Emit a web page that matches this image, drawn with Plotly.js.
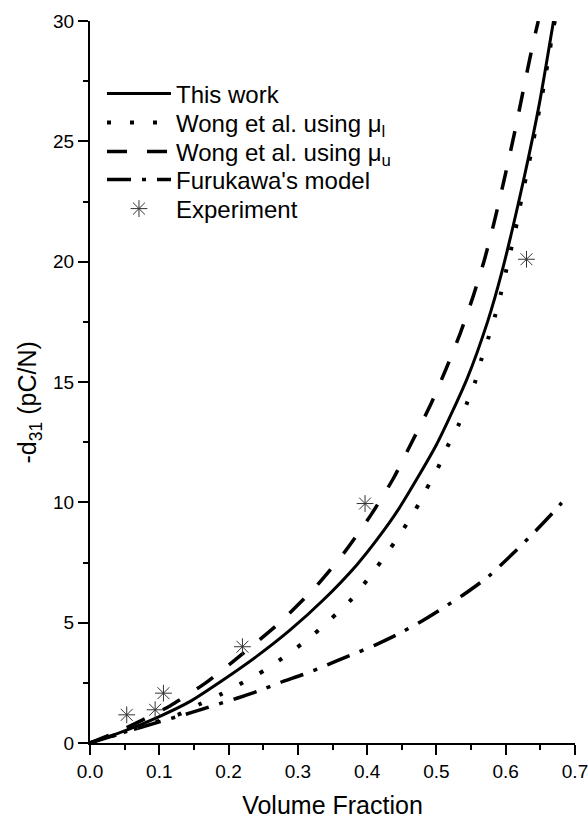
<!DOCTYPE html>
<html>
<head>
<meta charset="utf-8">
<script src="https://cdn.plot.ly/plotly-3.0.1.min.js"></script>
<style>html,body{margin:0;padding:0;background:#fff;}#chart{width:588px;height:823px;}</style>
</head>
<body>
<div id="chart"></div>
<script>
// "This work"
var xWork = [0, 0.05, 0.1, 0.144, 0.192, 0.24, 0.289, 0.337, 0.385, 0.416, 0.447, 0.5, 0.544, 0.574, 0.594, 0.627, 0.649, 0.669];
var yWork = [0, 0.5, 1.1, 1.72, 2.62, 3.59, 4.70, 5.95, 7.40, 8.52, 9.79, 12.39, 15.12, 17.52, 19.52, 23.55, 26.63, 30];
// Wong et al. using mu_l (dotted)
var xWongL = [0, 0.05, 0.1, 0.132, 0.159, 0.19, 0.221, 0.253, 0.284, 0.315, 0.346, 0.378, 0.404, 0.427, 0.448, 0.468, 0.485, 0.502, 0.516, 0.532, 0.544, 0.556, 0.565, 0.575, 0.5845, 0.593, 0.6004, 0.6076, 0.6146, 0.6206, 0.627, 0.6336, 0.6398, 0.6456, 0.652, 0.657, 0.663, 0.667, 0.671];
var yWongL = [0, 0.45, 0.92, 1.23, 1.62, 2.04, 2.52, 3.04, 3.66, 4.32, 5.11, 5.99, 6.92, 7.82, 8.70, 9.6, 10.52, 11.42, 12.32, 13.22, 14.12, 15.02, 15.95, 16.83, 17.73, 18.67, 19.6, 20.5, 21.4, 22.3, 23.2, 24.1, 25.0, 25.9, 26.8, 27.7, 28.6, 29.5, 30];
// Wong et al. using mu_u (dashed)
var xWongU = [0, 0.05, 0.116, 0.168, 0.22, 0.273, 0.325, 0.368, 0.4065, 0.438, 0.465, 0.491, 0.514, 0.5345, 0.553, 0.569, 0.583, 0.595, 0.607, 0.618, 0.629, 0.640, 0.647];
var yWongU = [0, 0.6, 1.55, 2.52, 3.70, 4.98, 6.47, 7.95, 9.52, 11.0, 12.53, 14.02, 15.55, 17.03, 18.56, 20.05, 21.6, 23.06, 24.59, 26.08, 27.64, 29.13, 30];
// Furukawa's model (dash-dot)
var xFuru = [0, 0.05, 0.1, 0.147, 0.178, 0.212, 0.244, 0.275, 0.310, 0.342, 0.377, 0.41, 0.443, 0.481, 0.509, 0.541, 0.575, 0.6085, 0.64, 0.672, 0.687];
var yFuru = [0, 0.45, 0.88, 1.27, 1.55, 1.86, 2.17, 2.52, 2.87, 3.24, 3.66, 4.05, 4.5, 5.1, 5.6, 6.2, 6.92, 7.82, 8.72, 9.69, 10.19];
// Experiment
var xExp = [0.053, 0.094, 0.106, 0.22, 0.397, 0.63];
var yExp = [1.17, 1.38, 2.07, 4.0, 9.95, 20.1];

var names = ["This work", "Wong et al. using \u03bc<sub>l</sub>", "Wong et al. using \u03bc<sub>u</sub>", "Furukawa's model", "Experiment"];
var xTicks = [0, 0.1, 0.2, 0.3, 0.4, 0.5, 0.6, 0.7];
var yTicks = [0, 5, 10, 15, 20, 25, 30];
var xTitle = "Volume Fraction";
var yTitle = "-d<sub>31</sub> (pC/N)";

var FONT = "Arial, 'Liberation Sans', sans-serif";
var SM = 0.6;

var traces = [
  {x: xWork, y: yWork, name: names[0], legend: "legend", mode: "lines", line: {color: "#000", width: 3, shape: "spline", smoothing: SM}},
  {x: xWongL, y: yWongL, name: names[1], legend: "legend2", mode: "lines", line: {color: "#000", width: 4, dash: "4px,19px", shape: "spline", smoothing: SM}},
  {x: xWongU, y: yWongU, name: names[2], legend: "legend3", mode: "lines", line: {color: "#000", width: 3.5, dash: "20px,20px", shape: "spline", smoothing: SM}},
  {x: xFuru, y: yFuru, name: names[3], legend: "legend4", mode: "lines", line: {color: "#000", width: 3.5, dash: "24px,11px,4px,11px", shape: "spline", smoothing: SM}},
  {x: xExp, y: yExp, name: names[4], legend: "legend5", mode: "markers", marker: {symbol: "asterisk-open", size: 14, color: "#333", line: {color: "#333", width: 1}}}
];

function leg(py) {
  return {x: 0.0247, y: py, xanchor: "left", yanchor: "middle", bgcolor: "rgba(0,0,0,0)",
          font: {family: FONT, size: 24, color: "#000"}, itemwidth: 64, borderwidth: 0};
}

var layout = {
  width: 588, height: 823,
  margin: {l: 90, r: 13, t: 21, b: 80},
  paper_bgcolor: "#fff", plot_bgcolor: "#fff",
  font: {family: FONT, color: "#000", size: 19},
  showlegend: true,
  legend: leg(0.8989),
  legend2: leg(0.8587),
  legend3: leg(0.8186),
  legend4: leg(0.7798),
  legend5: leg(0.7396),
  xaxis: {
    range: [0, 0.7], tickvals: xTicks, tickformat: ".1f", ticklabeloverflow: "allow",
    showgrid: false, zeroline: false, showline: true, linecolor: "#000", linewidth: 2,
    ticks: "outside", ticklen: 10, tickwidth: 2, tickcolor: "#000",
    minor: {dtick: 0.05, tick0: 0, ticks: "outside", ticklen: 5, tickwidth: 2, tickcolor: "#000", showgrid: false},
    tickfont: {family: FONT, size: 19, color: "#000"},
    title: {text: xTitle, font: {family: FONT, size: 25, color: "#000"}, standoff: 16}
  },
  yaxis: {
    range: [0, 30], tickvals: yTicks,
    showgrid: false, zeroline: false, showline: true, linecolor: "#000", linewidth: 2,
    ticks: "outside", ticklen: 10, tickwidth: 2, tickcolor: "#000",
    minor: {dtick: 2.5, tick0: 0, ticks: "outside", ticklen: 5, tickwidth: 2, tickcolor: "#000", showgrid: false},
    tickfont: {family: FONT, size: 19, color: "#000"}
  },
  annotations: [
    {text: yTitle, xref: "paper", yref: "paper", x: -0.1258, y: 0.4716, xanchor: "center", yanchor: "middle",
     textangle: -90, showarrow: false, font: {family: FONT, size: 25, color: "#000"}}
  ]
};

Plotly.newPlot("chart", traces, layout, {displayModeBar: false, staticPlot: true});
</script>
</body>
</html>
